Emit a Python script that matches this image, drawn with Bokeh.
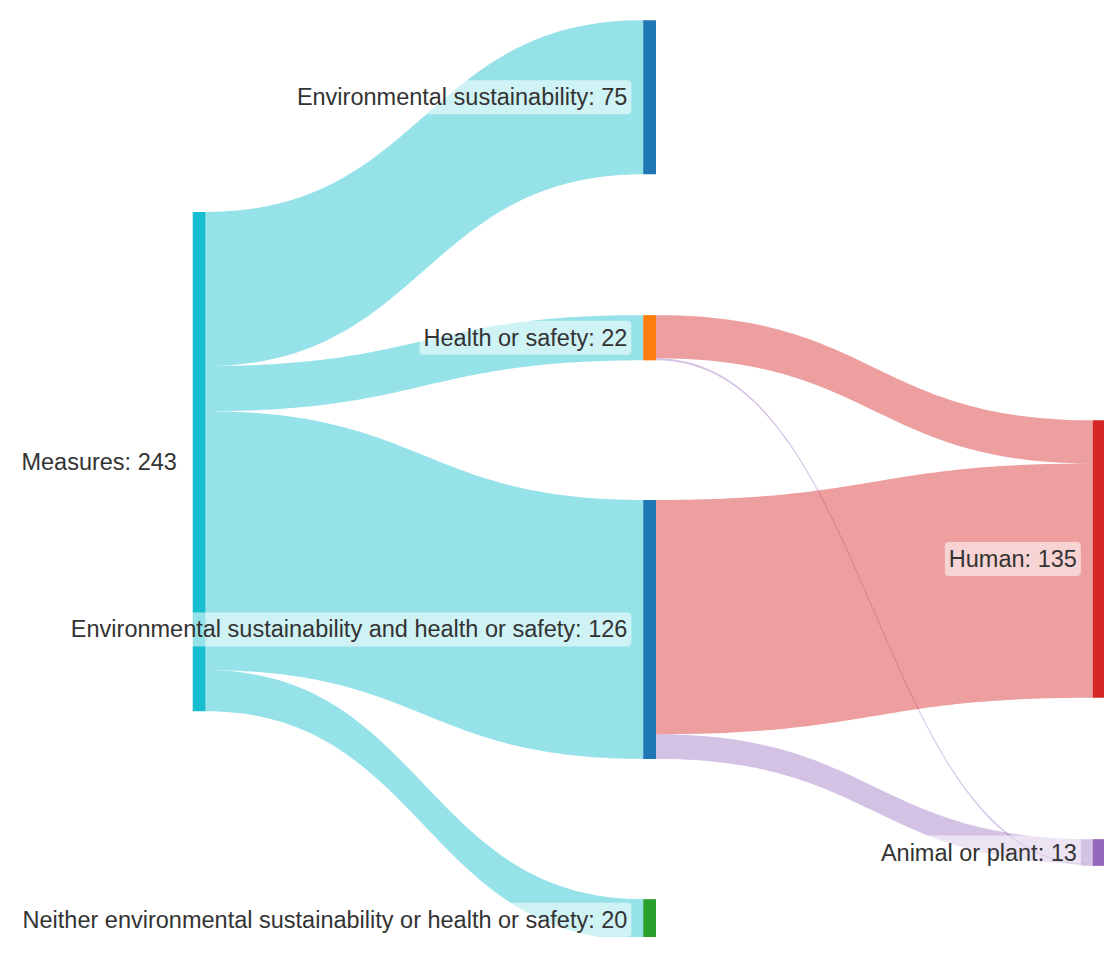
import numpy as np
from bokeh.plotting import figure
from bokeh.models import Range1d, ColumnDataSource
from bokeh.core.properties import value
from bokeh.embed import file_html
from bokeh.resources import INLINE

# ---- data ----
node_names = [
    "Measures",
    "Environmental sustainability",
    "Health or safety",
    "Environmental sustainability and health or safety",
    "Neither environmental sustainability or health or safety",
    "Human",
    "Animal or plant",
]
link_source = [0, 0, 0, 0, 2, 2, 3, 3]
link_target = [1, 2, 3, 4, 5, 6, 5, 6]
link_value = [75, 22, 126, 20, 21, 1, 114, 12]

# ---- styles / layout ----
node_colors = ["#17becf", "#1f77b4", "#ff7f0e", "#1f77b4", "#2ca02c", "#d62728", "#9467bd"]
link_colors = ["#17becf", "#17becf", "#17becf", "#17becf", "#d62728", "#9467bd", "#d62728", "#9467bd"]
link_alpha = [0.45, 0.45, 0.45, 0.45, 0.45, 0.4, 0.45, 0.4]
node_col = [0, 1, 1, 1, 1, 2, 2]
col_left = [195, 652, 1108]
node_w = 13
node_top = [215, 20, 320, 508, 914, 427, 853]
scale = 2.09
# order in which links arrive at each target (indices into the link list)
target_order = [0, 1, 2, 3, 4, 6, 7, 5]

W, H = 1120, 953
p = figure(width=1104, height=937, x_range=Range1d(0, W), y_range=Range1d(H, 0),
           output_backend="svg", toolbar_location=None, min_border=0)
p.axis.visible = False
p.grid.visible = False
p.outline_line_color = None
p.background_fill_color = "white"

n = len(node_names)
out_sum = [0] * n
in_sum = [0] * n
for s, t, v in zip(link_source, link_target, link_value):
    out_sum[s] += v
    in_sum[t] += v
node_val = [max(a, b) for a, b in zip(out_sum, in_sum)]

# source offsets
src_off = [0.0] * n
src_y = []
for s, v in zip(link_source, link_value):
    src_y.append(node_top[s] + src_off[s])
    src_off[s] += v * scale
tgt_off = [0.0] * n
tgt_y = [0.0] * len(link_value)
for i in target_order:
    t = link_target[i]
    tgt_y[i] = node_top[t] + tgt_off[t]
    tgt_off[t] += link_value[i] * scale

tt = np.linspace(0, 1, 80)
xs, ys = [], []
for i, (s, t, v) in enumerate(zip(link_source, link_target, link_value)):
    x0 = col_left[node_col[s]] + node_w
    x1 = col_left[node_col[t]]
    xm = (x0 + x1) / 2
    bx = (1 - tt) ** 3 * x0 + 3 * (1 - tt) ** 2 * tt * xm + 3 * (1 - tt) * tt ** 2 * xm + tt ** 3 * x1
    h = v * scale
    y0, y1 = src_y[i], tgt_y[i]
    by = (1 - tt) ** 3 * y0 + 3 * (1 - tt) ** 2 * tt * y0 + 3 * (1 - tt) * tt ** 2 * y1 + tt ** 3 * y1
    xs.append(list(bx) + list(bx[::-1]))
    ys.append(list(by) + list((by + h)[::-1]))

p.patches(xs, ys, fill_color=link_colors, fill_alpha=link_alpha, line_color=None)

left = [col_left[c] for c in node_col]
right = [col_left[c] + node_w for c in node_col]
top = node_top
bottom = [tp + v * scale for tp, v in zip(node_top, node_val)]
p.quad(left=left, right=right, top=top, bottom=bottom, fill_color=node_colors, line_color=None)

labels = [f"{nm}: {v}" for nm, v in zip(node_names, node_val)]
lx = [l - 12 for l in left]
ly = [(a + b) / 2 for a, b in zip(top, bottom)]
src = ColumnDataSource(dict(x=lx, y=ly, text=labels))
p.text(x="x", y="y", text="text", source=src, text_align="right", text_baseline="middle",
       text_font=value("Liberation Sans"), text_font_size="23.5px", text_color="#333333",
       background_fill_color="white", background_fill_alpha=0.55, padding=4, border_radius=4)

open("out.html", "w").write(file_html(p, INLINE))
